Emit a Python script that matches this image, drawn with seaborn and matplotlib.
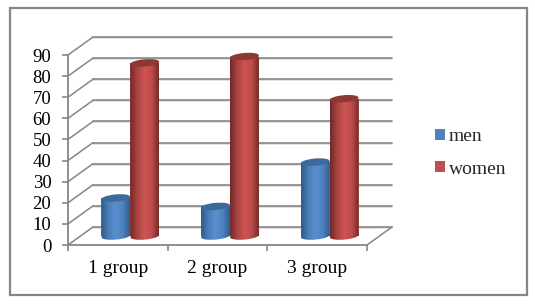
import numpy as np
import pandas as pd
import matplotlib
matplotlib.use('Agg')
import matplotlib.pyplot as plt
import seaborn as sns
from matplotlib.patches import Ellipse, Rectangle
from matplotlib.path import Path
from matplotlib.transforms import Affine2D, IdentityTransform, ScaledTranslation

# values
groups = ['1 group', '2 group', '3 group']
men = [18, 14, 35]
women = [82, 85, 65]
y_ticks = list(range(0, 100, 10))

df = pd.DataFrame({
    'group': groups * 2,
    'sex': ['men'] * 3 + ['women'] * 3,
    'value': men + women,
})

W, H = 535, 304
DPI = 100
GREY = '#868686'

sns.set_style('white')
plt.rcParams['font.family'] = ['Liberation Serif', 'DejaVu Serif']
font_size = 14

fig = plt.figure(figsize=(W / DPI, H / DPI), dpi=DPI, facecolor='white')
# axes = front plane of the fake 3d box
ax = fig.add_axes([68 / W, 1 - 245 / H, 299 / W, 190 / H], facecolor='none')

sns.barplot(data=df, x='group', y='value', hue='sex', hue_order=['men', 'women'],
            palette={'men': '#4f81bd', 'women': '#c0504d'},
            width=0.58, gap=0, saturation=1, linewidth=0, ax=ax)
ax.set_xlim(-0.5, 2.5)
ax.set_ylim(0, 90)
ax.set_xlabel('')
ax.set_ylabel('')


def shift(px, py):
    return ScaledTranslation(px / 72 * 1, py / 72 * 1, Affine2D().scale(72))


# outer frame
fig.add_artist(Rectangle((10 / W, 1 - 295 / H), 517 / W, 287 / H, transform=fig.transFigure,
                         facecolor='white', edgecolor=GREY, linewidth=1.6, zorder=-5))

# back wall, side wall and floor
back = ax.transData + shift(25, 18)
for v in y_ticks:
    ax.plot([-0.5, 2.5], [v, v], color='#dcdcdc', lw=1.2, clip_on=False, zorder=0.9,
            transform=ax.transData + shift(25, 17))
    ax.plot([-0.5, 2.5], [v, v], color=GREY, lw=1.2, clip_on=False, zorder=1, transform=back)
    x0, y0 = ax.transData.transform((-0.5, v))
    ax.plot([x0, x0 + 25], [y0, y0 + 18], color=GREY, lw=1.1, clip_on=False, zorder=1,
            transform=IdentityTransform())
x1, y1 = ax.transData.transform((2.5, 0))
ax.plot([x1, x1 + 25], [y1, y1 + 18], color=GREY, lw=1.1, clip_on=False, zorder=1,
        transform=IdentityTransform())

# axes lines and ticks
for s in ['top', 'right']:
    ax.spines[s].set_visible(False)
for s in ['left', 'bottom']:
    ax.spines[s].set_color(GREY)
    ax.spines[s].set_linewidth(1.3)
ax.set_yticks(y_ticks)
ax.set_xticks(range(3))
ax.set_xticklabels(groups)
ax.set_xticks([-0.5, 0.5, 1.5, 2.5], minor=True)
ax.tick_params(axis='y', length=4, width=1.2, color=GREY, pad=8, labelsize=13.5, labelcolor='black', left=True)
ax.tick_params(axis='x', which='major', length=0, pad=11, labelsize=font_size, labelcolor='black')
ax.tick_params(axis='x', which='minor', length=4, width=1.2, color=GREY, bottom=True)

# cylinders: bars pushed to mid depth, then shaded
styles = {
    'men': (['#2d5a8c', '#4a7cb6', '#5a8fd0', '#4f82bf', '#2f5d90'], '#3d6a9c'),
    'women': (['#6f2826', '#a84442', '#cf5553', '#bd4d4a', '#752b29'], '#8e3836'),
}
offset = shift(12.5, 9)
z = 3
for cont, name in zip(ax.containers, ['men', 'women']):
    stops, top_color = styles[name]
    rgb = np.array([matplotlib.colors.to_rgb(c) for c in stops])
    pos = np.linspace(0, 1, len(stops))
    t = np.linspace(0, 1, 128)
    grad = np.stack([np.interp(t, pos, rgb[:, i]) for i in range(3)], axis=1)[None, :, :]
    for bar in cont:
        bar.set_transform(ax.transData + offset)
        bar.set_zorder(z)
        bar.set_clip_on(False)
        (xa, ya), (xb, yb) = (ax.transData + offset).transform(
            [(bar.get_x(), 0), (bar.get_x() + bar.get_width(), bar.get_height())])
        w = xb - xa
        xc = (xa + xb) / 2
        rot = Affine2D().scale(w / 2, 3.6).rotate_deg(5).translate(xc, ya)
        clip = Path.make_compound_path(
            Path([(xa, ya), (xb, ya), (xb, yb), (xa, yb), (xa, ya)], closed=True),
            Path.unit_circle().transformed(rot))
        im = ax.imshow(grad, extent=(xa, xb, ya - 5, yb), aspect='auto', origin='lower',
                       transform=IdentityTransform(), zorder=z + 0.1, interpolation='bilinear')
        im.set_clip_path(clip, IdentityTransform())
        ax.add_artist(Ellipse((xc, yb), w, 7.2, angle=5, facecolor=top_color, edgecolor='none',
                              transform=IdentityTransform(), zorder=z + 0.2, clip_on=False))
    z += 1
ax.set_xlim(-0.5, 2.5)
ax.set_ylim(0, 90)

sns.move_legend(ax, 'center left', bbox_to_anchor=(417 / W, 1 - 153 / H), bbox_transform=fig.transFigure,
                frameon=False, title=None, fontsize=font_size, handlelength=0.52, handleheight=0.5,
                handletextpad=0.2, labelspacing=0.8)

fig.savefig('out.png', dpi=DPI, facecolor='white')
